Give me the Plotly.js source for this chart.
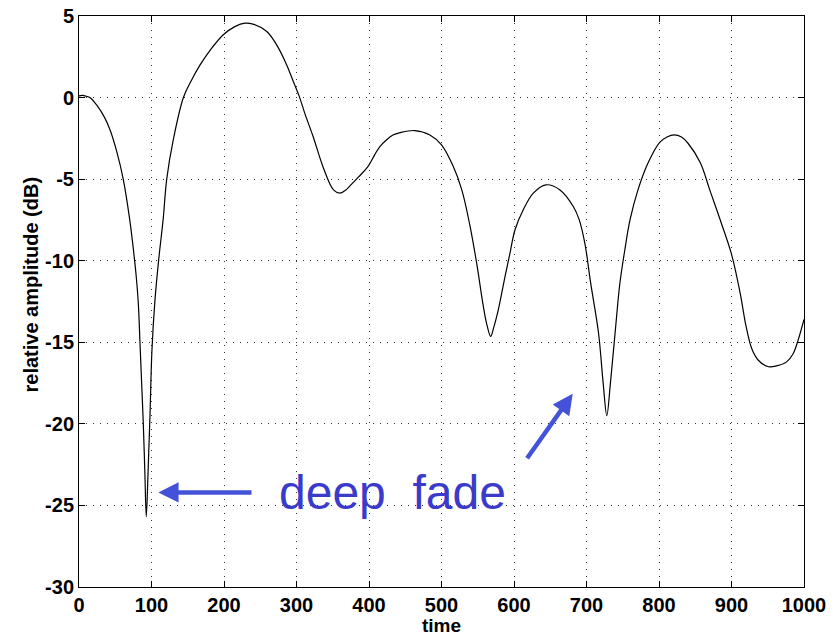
<!DOCTYPE html>
<html>
<head>
<meta charset="utf-8">
<script src="https://cdn.plot.ly/plotly-3.0.1.min.js"></script>
<style>html,body{margin:0;padding:0;background:#fff;}#chart{width:839px;height:636px;}</style>
</head>
<body>
<div id="chart"></div>
<script>
const timeValues = [0,5,10,15,25,35,43,52,61,70,76,79,81.8,84.1,86.4,88.7,90.8,92.8,95.3,97.9,100.6,104.8,110,116,121,130,144,155,167,180,199,215,229,240,259,272.6,286.5,295.6,303.9,311.7,323,337,351,360,367,374,386,399,408,415,424,433,443,463,484,500,516,528,539,548.5,557.7,563,567.8,572,578.4,587.6,594.5,601.4,612.8,626.6,644,663.4,681.8,690,698,705.5,716.5,723,728,733,739.5,746,753,760,771,785,801,811,821,831,840,857,870,886,900,912,920,928,937,951,962,976,985,992,1000];
const amplitudeDb = [0.1,0.13,0.08,0,-0.5,-1.2,-2.0,-3.3,-5.0,-7.5,-9.7,-11.0,-12.6,-15,-17.5,-20,-22.9,-25.7,-22.9,-19.5,-15.5,-12.4,-9.9,-7.5,-5,-2.6,0,1.05,2.0,2.85,3.85,4.35,4.56,4.5,4.05,3.23,2.0,0.98,0.06,-1.0,-2.4,-4.3,-5.66,-5.86,-5.7,-5.4,-4.85,-4.2,-3.5,-3.0,-2.6,-2.3,-2.15,-2.02,-2.29,-2.9,-4.2,-5.66,-7.8,-10.15,-12.8,-14.0,-14.64,-14.1,-13.0,-10.97,-9.53,-8.1,-6.88,-5.86,-5.35,-5.66,-6.68,-7.5,-9.0,-11.3,-14.4,-17.5,-19.5,-17.5,-14.4,-11.4,-9.3,-7.5,-5.66,-4.0,-2.75,-2.42,-2.29,-2.42,-2.8,-4.0,-5.66,-7.7,-9.6,-12.0,-14.0,-15.4,-16.1,-16.5,-16.45,-16.2,-15.7,-14.85,-13.6];
const xTickVals = [0,100,200,300,400,500,600,700,800,900,1000];
const yTickVals = [5,0,-5,-10,-15,-20,-25,-30];
const annotationText = 'deep  fade';
const xTitle = 'time';
const yTitle = 'relative amplitude (dB)';

const tickFont = {family: 'Liberation Sans, Arial, sans-serif', size: 20, color: '#000', weight: 'bold'};
const titleFont = {family: 'Liberation Sans, Arial, sans-serif', size: 19, color: '#000', weight: 'bold'};

const trace = {
  x: timeValues, y: amplitudeDb, type: 'scatter', mode: 'lines',
  line: {color: '#000', width: 1.2, shape: 'spline', smoothing: 1},
  hoverinfo: 'skip'
};

const axisCommon = {
  showline: true, linecolor: '#000', linewidth: 1, mirror: 'allticks',
  ticks: 'inside', ticklen: 6, tickcolor: '#000', tickwidth: 1,
  showgrid: true, gridcolor: '#333', gridwidth: 1, griddash: '1px,6px',
  zeroline: false, tickfont: tickFont, fixedrange: true, automargin: false
};

const layout = {
  width: 839, height: 636,
  margin: {l: 79, r: 35, t: 16, b: 49},
  paper_bgcolor: '#fff', plot_bgcolor: '#fff',
  showlegend: false,
  xaxis: Object.assign({}, axisCommon, {
    range: [0, 1000], tickvals: xTickVals, ticktext: xTickVals.map(String),
    title: {text: xTitle, font: titleFont, standoff: 0}
  }),
  yaxis: Object.assign({}, axisCommon, {
    range: [-30, 5], tickvals: yTickVals, ticktext: yTickVals.map(String)
  }),
  annotations: [
    {x: -0.066, y: 0.53, xref: 'paper', yref: 'paper', text: yTitle, showarrow: false,
     textangle: -90, font: {family: 'Liberation Sans, Arial, sans-serif', size: 20, color: '#000', weight: 'bold'},
     xanchor: 'center', yanchor: 'middle'},
    {x: 432, y: -24.2, xref: 'x', yref: 'y', text: annotationText, showarrow: false,
     font: {family: 'Liberation Sans, Arial, sans-serif', size: 48, color: '#3a3acb'},
     xanchor: 'center', yanchor: 'middle'},
    {x: 109.4, y: -24.2, xref: 'x', yref: 'y', ax: 240, ay: -24.2, axref: 'x', ayref: 'y',
     text: '', showarrow: true, arrowhead: 2, arrowwidth: 4.5, arrowsize: 0.9, arrowcolor: '#4352d9'},
    {x: 681, y: -18.16, xref: 'x', yref: 'y', ax: 616.6, ay: -22.2, axref: 'x', ayref: 'y',
     text: '', showarrow: true, arrowhead: 2, arrowwidth: 4.5, arrowsize: 0.9, arrowcolor: '#4352d9'}
  ]
};

Plotly.newPlot('chart', [trace], layout, {staticPlot: true, displayModeBar: false});
</script>
</body>
</html>
